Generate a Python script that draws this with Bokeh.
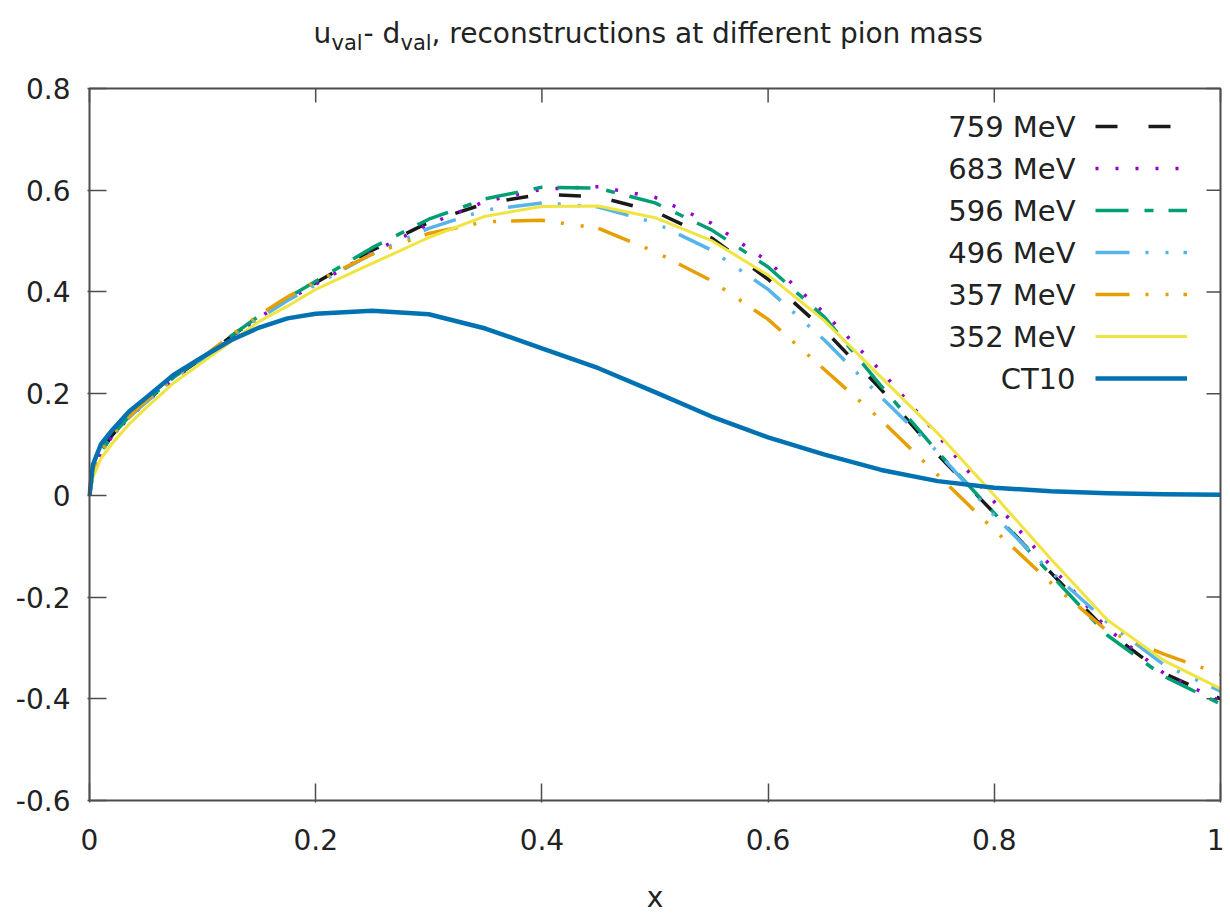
import math
from bokeh.plotting import figure
from bokeh.models import Range1d, FixedTicker, Label, Legend, LegendItem, BoxAnnotation
from bokeh.core.properties import value
from bokeh.embed import file_html
from bokeh.resources import INLINE

# ---------------- data ----------------
x_grid = [0, 0.003, 0.01, 0.02, 0.035, 0.05, 0.075, 0.1, 0.125, 0.15, 0.175, 0.2,
          0.25, 0.3, 0.35, 0.4, 0.45, 0.5, 0.55, 0.6, 0.65, 0.7, 0.75, 0.8,
          0.85, 0.9, 0.95, 1.0]

y_759 = [0, 0.045, 0.085, 0.118, 0.155, 0.185, 0.232, 0.270, 0.312, 0.352, 0.388, 0.418,
         0.482, 0.537, 0.574, 0.592, 0.587, 0.558, 0.506, 0.425, 0.325, 0.208, 0.080, -0.035,
         -0.152, -0.268, -0.350, -0.400]
y_683 = [0, 0.044, 0.084, 0.116, 0.153, 0.183, 0.230, 0.268, 0.310, 0.350, 0.384, 0.415,
         0.478, 0.533, 0.578, 0.602, 0.607, 0.586, 0.535, 0.460, 0.358, 0.244, 0.118, -0.013,
         -0.139, -0.262, -0.350, -0.405]
y_596 = [0, 0.045, 0.085, 0.118, 0.155, 0.186, 0.233, 0.271, 0.313, 0.353, 0.388, 0.421,
         0.487, 0.543, 0.583, 0.606, 0.604, 0.575, 0.522, 0.449, 0.350, 0.215, 0.085, -0.035,
         -0.156, -0.275, -0.356, -0.410]
y_496 = [0, 0.044, 0.084, 0.116, 0.153, 0.183, 0.230, 0.268, 0.309, 0.348, 0.383, 0.414,
         0.475, 0.525, 0.561, 0.575, 0.567, 0.536, 0.482, 0.405, 0.305, 0.193, 0.085, -0.040,
         -0.150, -0.250, -0.333, -0.385]
y_357 = [0, 0.045, 0.085, 0.118, 0.155, 0.186, 0.233, 0.272, 0.314, 0.355, 0.390, 0.420,
         0.474, 0.515, 0.538, 0.541, 0.525, 0.479, 0.422, 0.346, 0.247, 0.148, 0.040, -0.068,
         -0.172, -0.267, -0.312, -0.352]
y_352 = [0, 0.035, 0.072, 0.102, 0.140, 0.172, 0.222, 0.262, 0.302, 0.342, 0.372, 0.405,
         0.456, 0.507, 0.549, 0.568, 0.569, 0.546, 0.501, 0.433, 0.343, 0.232, 0.122, 0.000,
         -0.125, -0.245, -0.325, -0.380]
y_ct10 = [0, 0.060, 0.100, 0.128, 0.165, 0.192, 0.238, 0.272, 0.305, 0.330, 0.348, 0.357,
          0.363, 0.356, 0.328, 0.289, 0.250, 0.203, 0.155, 0.114, 0.080, 0.050, 0.028, 0.015,
          0.008, 0.004, 0.002, 0.001]

series_labels = ["759 MeV", "683 MeV", "596 MeV", "496 MeV", "357 MeV", "352 MeV", "CT10"]
series_values = [y_759, y_683, y_596, y_496, y_357, y_352, y_ct10]

X_MIN, X_MAX = 0.0, 1.0
Y_MIN, Y_MAX = -0.6, 0.8
x_ticks = [0, 0.2, 0.4, 0.6, 0.8, 1.0]
x_tick_labels = ["0", "0.2", "0.4", "0.6", "0.8", "1"]
y_ticks = [-0.6, -0.4, -0.2, 0, 0.2, 0.4, 0.6, 0.8]
y_tick_labels = ["-0.6", "-0.4", "-0.2", "0", "0.2", "0.4", "0.6", "0.8"]

x_axis_title = "x"
title_parts = [("u", "main"), ("val", "sub"), ("- d", "main"), ("val", "sub"),
               (", reconstructions at different pion mass", "main")]

# ---------------- styles / layout ----------------
styles = [
    dict(line_color="#1a1a1a", line_width=3.5, line_dash="22 31"),
    dict(line_color="#9400d3", line_width=3.5, line_dash="3 17"),
    dict(line_color="#009e73", line_width=3.5, line_dash="33 16 9 15"),
    dict(line_color="#56b4e9", line_width=3.5, line_dash="34 16 3 17 3 15"),
    dict(line_color="#e69f00", line_width=3.5, line_dash="34 16 3 17 3 15"),
    dict(line_color="#f0e442", line_width=3.0, line_dash="solid"),
    dict(line_color="#0072b2", line_width=4.5, line_dash="solid"),
]

FONT = "DejaVu Sans"
FRAME_COLOR = "#4d4d4d"
TEXT_COLOR = "#222222"
W, H = 1224, 923
BOX_LEFT, BOX_RIGHT, BOX_TOP, BOX_BOTTOM = 89, 1220, 88, 800   # page pixels of the plot box
PAD = 2                                                        # frame margin around the box
FRAME_LEFT, FRAME_RIGHT, FRAME_BOTTOM = BOX_LEFT - PAD, BOX_RIGHT + PAD, BOX_BOTTOM + PAD

# The Bokeh frame reaches the top of the canvas (so the title labels are not clipped) and
# extends PAD px beyond the box elsewhere; the visible box is drawn at the data limits.
x_per_px = (X_MAX - X_MIN) / (BOX_RIGHT - BOX_LEFT)
y_per_px = (Y_MAX - Y_MIN) / (BOX_BOTTOM - BOX_TOP)
x_range = Range1d(X_MIN - PAD * x_per_px, X_MAX + PAD * x_per_px)
y_range = Range1d(Y_MIN - PAD * y_per_px, Y_MAX + BOX_TOP * y_per_px)

p = figure(width=W, height=H, x_range=x_range, y_range=y_range,
           output_backend="svg", toolbar_location=None, title=None,
           min_border_left=FRAME_LEFT, min_border_right=W - FRAME_RIGHT, min_border_top=0,
           min_border_bottom=H - FRAME_BOTTOM, x_axis_label=x_axis_title)
p.xgrid.visible = False
p.ygrid.visible = False
p.outline_line_color = None
p.background_fill_color = "white"
p.border_fill_color = "white"

xa = p.xaxis[0]
xa.ticker = FixedTicker(ticks=x_ticks)
xa.major_label_overrides = {t: l for t, l in zip(x_ticks, x_tick_labels)}
ya = p.yaxis[0]
ya.ticker = FixedTicker(ticks=y_ticks)
ya.major_label_overrides = {t: l for t, l in zip(y_ticks, y_tick_labels)}

for ax in (xa, ya):
    ax.axis_line_color = None
    ax.major_tick_in = 17 + PAD
    ax.major_tick_out = 0
    ax.major_tick_line_color = FRAME_COLOR
    ax.major_tick_line_width = 1.5
    ax.minor_tick_line_color = None
    ax.major_label_text_font = FONT
    ax.major_label_text_font_size = "28px"
    ax.major_label_text_color = TEXT_COLOR
xa.major_label_standoff = 26
ya.major_label_standoff = 17
xa.axis_label_text_font = FONT
xa.axis_label_text_font_size = "28px"
xa.axis_label_text_font_style = "normal"
xa.axis_label_text_color = TEXT_COLOR
xa.axis_label_standoff = 28

# plot box
p.add_layout(BoxAnnotation(left=X_MIN, right=X_MAX, bottom=Y_MIN, top=Y_MAX,
                           fill_alpha=0, line_color=FRAME_COLOR, line_alpha=1.0,
                           line_width=2, level="overlay"))

# mirrored (inward) ticks on the top and right edges of the box
p.ray(x=x_ticks, y=[Y_MAX] * len(x_ticks), length=14, length_units="screen",
      angle=-math.pi / 2, line_color=FRAME_COLOR, line_width=1.5)
p.ray(x=[X_MAX] * len(y_ticks), y=y_ticks, length=14, length_units="screen",
      angle=math.pi, line_color=FRAME_COLOR, line_width=1.5)

renderers = []
for ys, st in zip(series_values, styles):
    r = p.line(x_grid, ys, line_cap="butt", line_join="round", **st)
    renderers.append(r)

# key: samples from the renderers, texts right-aligned to their left (gnuplot style)
KEY_TOP, ROW_H = 105, 42
legend = Legend(items=[LegendItem(label=value(" "), renderers=[r]) for r in renderers],
                location=(1095 - FRAME_LEFT, FRAME_BOTTOM - (KEY_TOP + ROW_H * len(renderers))),
                glyph_width=92, glyph_height=ROW_H, spacing=0, padding=0, margin=0,
                label_width=0, label_height=0, label_standoff=0, label_text_font_size="1px",
                border_line_color=None, background_fill_alpha=0)
p.add_layout(legend)

for i, name in enumerate(series_labels):
    p.add_layout(Label(x=1075 - FRAME_LEFT, y=FRAME_BOTTOM - (KEY_TOP + ROW_H * i + ROW_H / 2),
                       x_units="screen", y_units="screen", text=name,
                       text_align="right", text_baseline="middle",
                       text_font=FONT, text_font_size="29px", text_color=TEXT_COLOR))

# title with subscripts (page x of each piece; baselines 33 / 42 px from the top)
title_x = [313, 331, 363, 400, 431]
for (txt, kind), tx in zip(title_parts, title_x):
    base = 33 if kind == "main" else 42
    p.add_layout(Label(x=tx - FRAME_LEFT, y=FRAME_BOTTOM - base, x_units="screen", y_units="screen",
                       text=txt, text_align="left", text_baseline="alphabetic",
                       text_font=FONT, text_font_size="28px" if kind == "main" else "21px",
                       text_color=TEXT_COLOR))

open("out.html", "w").write(file_html(p, INLINE))
